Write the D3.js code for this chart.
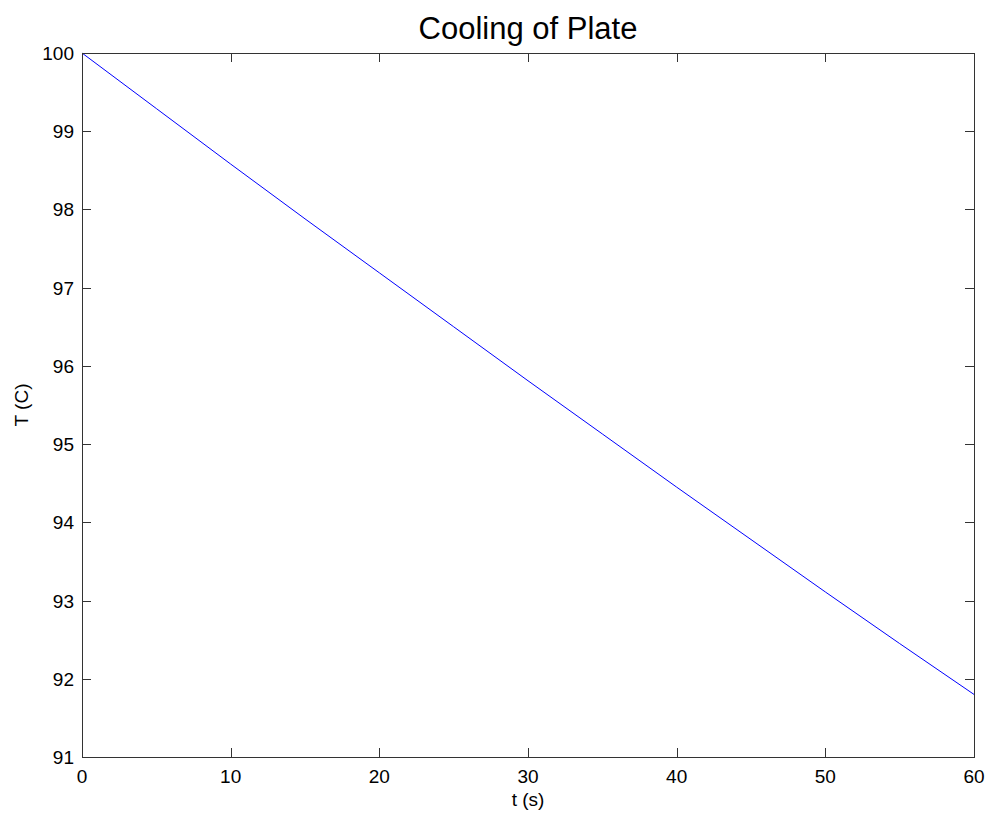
<!DOCTYPE html>
<html>
<head>
<meta charset="utf-8">
<script src="https://cdn.jsdelivr.net/npm/d3@7"></script>
<style>
  body { margin: 0; background: #fff; }
  svg { display: block; }
  text { font-family: "Liberation Sans", Arial, sans-serif; fill: #000; }
</style>
</head>
<body>
<svg width="992" height="817"></svg>
<script>
// time (s) and plate temperature (C)
const times = [0, 5, 10, 15, 20, 25, 30, 35, 40, 45, 50, 55, 60];
const temps = [100.00, 99.29, 98.58, 97.88, 97.19, 96.50, 95.81, 95.13, 94.45, 93.78, 93.11, 92.45, 91.80];
const xTicks = [0, 10, 20, 30, 40, 50, 60];
const yTicks = [91, 92, 93, 94, 95, 96, 97, 98, 99, 100];

const plotLeft = 82, plotRight = 974, plotTop = 53, plotBottom = 757;
const tickLen = 9;
const axisColor = '#333';

const svg = d3.select('svg');

const x = d3.scaleLinear().domain([0, 60]).range([plotLeft, plotRight]);
const y = d3.scaleLinear().domain([91, 100]).range([plotBottom, plotTop]);

// data line
const line = d3.line()
    .x((d, i) => x(times[i]))
    .y(d => y(d));

svg.append('path')
    .datum(temps)
    .attr('d', line)
    .attr('fill', 'none')
    .attr('stroke', '#0000ff')
    .attr('stroke-width', 1);

// box
svg.append('rect')
    .attr('x', plotLeft + 0.5)
    .attr('y', plotTop + 0.5)
    .attr('width', plotRight - plotLeft)
    .attr('height', plotBottom - plotTop)
    .attr('fill', 'none')
    .attr('stroke', axisColor)
    .attr('stroke-width', 1);

// x ticks, bottom and top, pointing inward
xTicks.forEach(t => {
    const px = Math.round(x(t)) + 0.5;
    svg.append('line')
        .attr('x1', px).attr('x2', px)
        .attr('y1', plotBottom).attr('y2', plotBottom - tickLen)
        .attr('stroke', axisColor);
    svg.append('line')
        .attr('x1', px).attr('x2', px)
        .attr('y1', plotTop).attr('y2', plotTop + tickLen)
        .attr('stroke', axisColor);
    svg.append('text')
        .attr('x', x(t))
        .attr('y', plotBottom + 26)
        .attr('text-anchor', 'middle')
        .style('font-size', '19px')
        .text(t);
});

// y ticks, left and right
yTicks.forEach(v => {
    const py = Math.round(y(v)) + 0.5;
    svg.append('line')
        .attr('x1', plotLeft).attr('x2', plotLeft + tickLen)
        .attr('y1', py).attr('y2', py)
        .attr('stroke', axisColor);
    svg.append('line')
        .attr('x1', plotRight).attr('x2', plotRight - tickLen)
        .attr('y1', py).attr('y2', py)
        .attr('stroke', axisColor);
    svg.append('text')
        .attr('x', plotLeft - 8)
        .attr('y', y(v) + 7)
        .attr('text-anchor', 'end')
        .style('font-size', '19px')
        .text(v);
});

// title and axis labels
svg.append('text')
    .attr('x', (plotLeft + plotRight) / 2)
    .attr('y', 39)
    .attr('text-anchor', 'middle')
    .style('font-size', '31px')
    .text('Cooling of Plate');

svg.append('text')
    .attr('x', (plotLeft + plotRight) / 2)
    .attr('y', 806)
    .attr('text-anchor', 'middle')
    .style('font-size', '19px')
    .text('t (s)');

svg.append('text')
    .attr('transform', `translate(28, ${(plotTop + plotBottom) / 2}) rotate(-90)`)
    .attr('text-anchor', 'middle')
    .style('font-size', '19px')
    .text('T (C)');
</script>
</body>
</html>
